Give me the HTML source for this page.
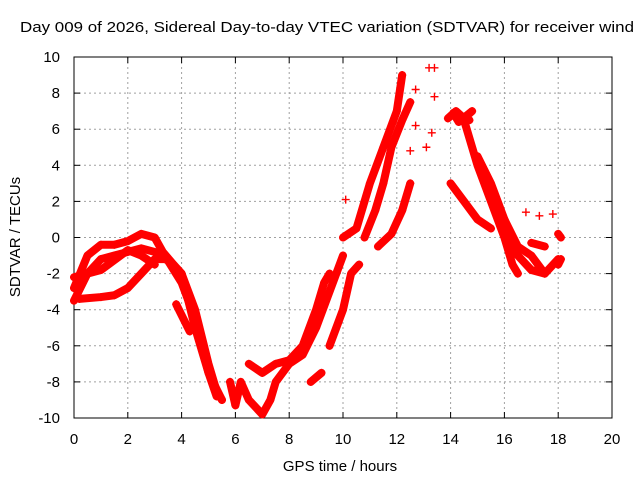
<!DOCTYPE html>
<html><head><meta charset="utf-8"><style>
body{margin:0;background:#fff}
svg{display:block;font-family:"Liberation Sans",sans-serif}
</style></head><body>
<svg id="chart" width="640" height="480" viewBox="0 0 640 480">
<text x="20" y="32" font-size="15" fill="#000" textLength="614" lengthAdjust="spacingAndGlyphs">Day 009 of 2026, Sidereal Day-to-day VTEC variation (SDTVAR) for receiver wind</text>
<g id="grid"></g>
<g id="axes"></g>
<g id="marks"></g>
<text x="340" y="471" font-size="15" text-anchor="middle">GPS time / hours</text>
<text x="0" y="0" font-size="15" text-anchor="middle" transform="translate(20,237) rotate(-90)">SDTVAR / TECUs</text>
</svg>
<script>
const xTicks=[0,2,4,6,8,10,12,14,16,18,20];
const yTicks=[-10,-8,-6,-4,-2,0,2,4,6,8,10];
const trackA=[[0,-2.8],[0.5,-1],[1,-0.4],[1.5,-0.4],[2,-0.2],[2.5,0.2],[3,0],[3.3,-0.8],[3.7,-1.5],[4,-2],[4.5,-4],[5,-7],[5.3,-8.5],[5.5,-9]];
const trackB=[[0,-3.5],[0.5,-2],[1,-1.2],[1.5,-1],[2,-0.8],[2.5,-0.6],[3,-0.8],[3.5,-1.3],[4,-2.5],[4.5,-4.5],[5,-7.5],[5.3,-8.8]];
const trackC=[[0.2,-3.4],[1,-3.3],[1.5,-3.2],[2,-2.8],[2.5,-2],[3,-1.2],[3.5,-1.2],[4,-2],[4.5,-5],[5,-7.5],[5.5,-9]];
const trackD=[[0,-2.2],[1,-1.8],[2,-0.7],[2.5,-1],[3,-1.5]];
const trackE=[[3.8,-3.7],[4.3,-5.2]];
const trackF=[[5.8,-8],[6,-9.3],[6.2,-8],[6.5,-9],[7,-9.8],[7.3,-9],[7.5,-8],[8,-7],[8.5,-6.5],[9,-5],[9.5,-3],[10,-1]];
const trackG=[[6.5,-7],[7,-7.5],[7.5,-7],[8,-6.8],[8.5,-6],[9,-4],[9.3,-2.5],[9.5,-2]];
const trackH=[[8.8,-8],[9.2,-7.5]];
const trackI=[[9.5,-6],[10,-4],[10.3,-2],[10.6,-1.5]];
const trackJ=[[10,0],[10.5,0.5],[11,3],[11.5,5],[12,7],[12.2,9]];
const trackK=[[10.8,0],[11.2,1.5],[11.5,3],[11.8,5],[12.2,6.5],[12.5,7.5]];
const trackL=[[11.3,-0.5],[11.8,0.2],[12.2,1.5],[12.5,3]];
const trackM=[[13.9,6.6],[14.2,7],[14.5,6.6],[14.8,7],[14.3,6.4],[14.1,6.9],[14.7,6.5]];
const trackN=[[14.5,6.5],[15,4],[15.5,2],[16,0],[16.3,-1.5],[16.5,-2]];
const trackO=[[14,3],[14.5,2],[15,1],[15.5,0.5]];
const trackP=[[15,4.5],[15.5,3],[16,1],[16.5,-0.5],[17,-1],[17.5,-2]];
const trackQ=[[16,1],[16.5,-1],[17,-1.8],[17.5,-2],[18,-1.2]];
const trackR=[[17,-0.3],[17.5,-0.5]];
const trackS=[[18,0.2],[18.1,0]];
const trackT=[[18,-1.5],[18.1,-1.2]];
const isolated=[[10.1,2.1],[12.7,8.2],[13.2,9.4],[13.4,9.4],[13.4,7.8],[13.3,5.8],[13.1,5],[12.7,6.2],[12.5,4.8],[16.8,1.4],[17.3,1.2],[17.8,1.3]];
const tracks=[trackA,trackB,trackC,trackD,trackE,trackF,trackG,trackH,trackI,trackJ,trackK,trackL,trackM,trackN,trackO,trackP,trackQ,trackR,trackS,trackT];

const L=74,R=612,T=57,B=418;
function sx(v){return L+(v-0)/(20-0)*(R-L);}
function sy(v){return B-(v+10)/20*(B-T);}
const NS='http://www.w3.org/2000/svg';
function mk(t,a,p){const e=document.createElementNS(NS,t);for(const k in a)e.setAttribute(k,a[k]);p.appendChild(e);return e;}
const grid=document.getElementById('grid'),axes=document.getElementById('axes'),marks=document.getElementById('marks');
xTicks.forEach(v=>{
  if(v>0&&v<20){const g=mk('line',{x1:sx(v),x2:sx(v),y1:T,y2:B,stroke:'#a0a0a0','stroke-dasharray':'2,3'},grid);
  
  }
  const t=mk('text',{x:sx(v),y:B+26,'font-size':15,'text-anchor':'middle'},axes);t.textContent=v;
  
  
  mk('line',{x1:sx(v),x2:sx(v),y1:B,y2:B-6,stroke:'#000'},axes);
  mk('line',{x1:sx(v),x2:sx(v),y1:T,y2:T+6,stroke:'#000'},axes);
});
yTicks.forEach(v=>{
  if(v>-10&&v<10){const g=mk('line',{x1:L,x2:R,y1:sy(v),y2:sy(v),stroke:'#a0a0a0','stroke-dasharray':'2,3'},grid);
  
  }
  const t=mk('text',{x:L-14,y:sy(v)+5,'font-size':15,'text-anchor':'end'},axes);t.textContent=v;
  
  
  mk('line',{x1:L,x2:L+6,y1:sy(v),y2:sy(v),stroke:'#000'},axes);
  mk('line',{x1:R,x2:R-6,y1:sy(v),y2:sy(v),stroke:'#000'},axes);
});
const fr=mk('rect',{x:L,y:T,width:R-L,height:B-T,fill:'none',stroke:'#000'},axes);


function plus(x,y){const p=mk('path',{d:`M${sx(x)-4},${sy(y)}h8M${sx(x)},${sy(y)-4}v8`,stroke:'#f00','stroke-width':1.4},marks);
  
  }
tracks.forEach(tr=>{
  const pl=mk('polyline',{points:tr.map(p=>sx(p[0])+','+sy(p[1])).join(' '),fill:'none',stroke:'#f00','stroke-width':8,'stroke-linejoin':'round','stroke-linecap':'round'},marks);
  
  
  tr.forEach(p=>plus(p[0],p[1]));
});
isolated.forEach(p=>plus(p[0],p[1]));
</script>
</body></html>
